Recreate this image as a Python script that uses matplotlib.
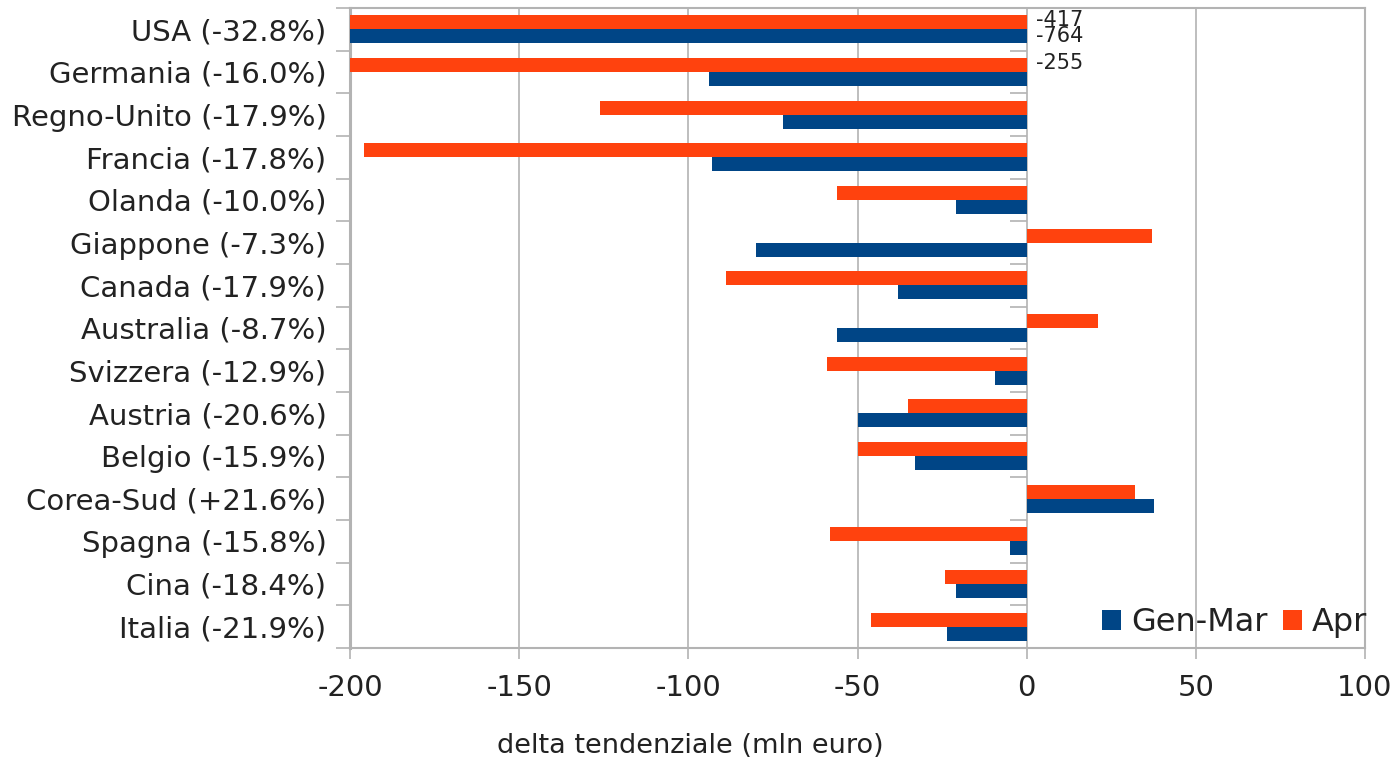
import matplotlib
matplotlib.use("Agg")
import matplotlib.pyplot as plt
import numpy as np

plt.rcParams['font.family'] = ['DejaVu Sans']

categories = ["USA (-32.8%)", "Germania (-16.0%)", "Regno-Unito (-17.9%)", "Francia (-17.8%)",
              "Olanda (-10.0%)", "Giappone (-7.3%)", "Canada (-17.9%)", "Australia (-8.7%)",
              "Svizzera (-12.9%)", "Austria (-20.6%)", "Belgio (-15.9%)", "Corea-Sud (+21.6%)",
              "Spagna (-15.8%)", "Cina (-18.4%)", "Italia (-21.9%)"]
gen_mar = [-764, -94, -72, -93, -21, -80, -38, -56, -9.5, -50, -33, 37.5, -5, -21, -23.5]
apr = [-417, -255, -126, -196, -56, 37, -89, 21, -59, -35, -50, 32, -58, -24, -46]
series_names = ["Gen-Mar", "Apr"]
xticks = [-200, -150, -100, -50, 0, 50, 100]

C_BLUE = "#004586"
C_ORANGE = "#ff420e"
GRID = "#b3b3b3"
TXT = "#222222"

fig = plt.figure(figsize=(13.98, 7.58), dpi=100)
ax = fig.add_axes([350/1398, 1-648/758, (1365-350)/1398, (648-8)/758])

y = np.arange(len(categories))
h = 0.33
ax.barh(y + h/2, gen_mar, height=h, color=C_BLUE, label=series_names[0], zorder=3)
ax.barh(y - h/2, apr, height=h, color=C_ORANGE, label=series_names[1], zorder=3)

ax.set_xlim(-200, 100)
ax.set_ylim(len(categories) - 0.5, -0.5)
ax.set_xticks(xticks)
ax.set_xticklabels([str(v) for v in xticks], fontsize=21, color=TXT)
ax.set_yticks(y)
ax.set_yticklabels(categories, fontsize=21, color=TXT)
ax.set_yticks(np.arange(len(categories) + 1) - 0.5, minor=True)
ax.tick_params(axis='y', which='major', length=0, pad=17)
ax.tick_params(axis='y', which='minor', length=10, color=GRID, width=1.2)
ax.tick_params(axis='x', which='major', length=8, color=GRID, width=1.2, pad=11)
ax.grid(axis='x', color=GRID, linewidth=1.2, zorder=0)

for s in ax.spines.values():
    s.set_color(GRID)
    s.set_linewidth(1.5)
ax.spines['left'].set_linewidth(2.2)

# category ticks at the zero line
sec = ax.secondary_yaxis(2/3)
for s in sec.spines.values():
    s.set_visible(False)
sec.set_yticks([])
sec.set_yticks(np.arange(len(categories) + 1) - 0.5, minor=True)
sec.tick_params(which='minor', length=12, color=GRID, width=1.2, direction='in')
sec.tick_params(which='major', length=0)
sec.set_yticklabels([], minor=True)

# data labels for clipped bars
for i, (g, a) in enumerate(zip(gen_mar, apr)):
    if a < -200:
        ax.annotate(f"{a:.0f}", (0, i - h/2), xytext=(7, 1.5), textcoords='offset points',
                    fontsize=15, color=TXT, va='center', ha='left', zorder=5)
    if g < -200:
        ax.annotate(f"{g:.0f}", (0, i + h/2), xytext=(7, 0), textcoords='offset points',
                    fontsize=15, color=TXT, va='center', ha='left', zorder=5)

leg = ax.legend(loc='lower right', ncol=2, frameon=False, fontsize=23, handlelength=0.6,
                handleheight=0.6, handletextpad=0.3, columnspacing=0.5,
                bbox_to_anchor=(1.015, -0.005), borderaxespad=0.0)
for t in leg.get_texts():
    t.set_color(TXT)

fig.text(690/1398, 1 - 746/758, "delta tendenziale (mln euro)", fontsize=19.5,
         color=TXT, ha='center', va='center')

fig.savefig("out.png", dpi=100)
